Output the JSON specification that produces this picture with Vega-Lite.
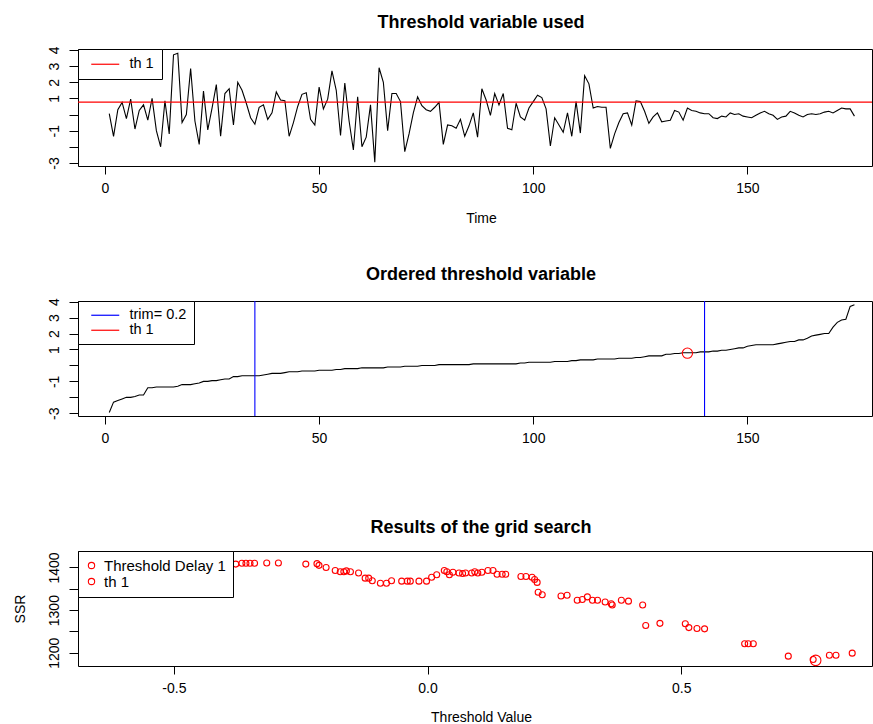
{
  "$schema": "https://vega.github.io/schema/vega-lite/v6.json",
  "padding": {"left": 12, "top": 13, "right": 0, "bottom": 0},
  "bounds": "flush",
  "spacing": 135,
  "background": "white",
  "config": {
    "font": "Liberation Sans",
    "view": {"stroke": "#000", "strokeWidth": 1},
    "axis": {"domain": false, "grid": false, "tickColor": "#000", "tickSize": 8, "labelColor": "#000", "labelFontSize": 14, "labelFont": "Liberation Sans", "titleFont": "Liberation Sans", "titleFontSize": 14, "titleFontWeight": "normal", "titleColor": "#000", "labelFlush": false, "labelOverlap": false, "labelPadding": 7},
    "title": {"fontSize": 18, "fontWeight": "bold", "color": "#000", "frame": "group", "offset": 14, "dx": 6, "font": "Liberation Sans"},
    "legend": {"orient": "top-left", "offset": 0, "fillColor": "white", "strokeColor": "black", "labelFontSize": 14.5, "labelColor": "#000", "labelFont": "Liberation Sans", "rowPadding": 0, "titlePadding": 0, "symbolOpacity": 1}
  },
  "resolve": {"scale": {"x": "independent", "y": "independent", "color": "independent"}, "legend": {"color": "independent"}, "axis": {"x": "independent", "y": "independent"}},
  "datasets": {
    "series": [
      {"t":1,"value":0.05},{"t":2,"value":-1.35},{"t":3,"value":0.3},{"t":4,"value":0.75},{"t":5,"value":-0.25},
      {"t":6,"value":0.95},{"t":7,"value":-0.9},{"t":8,"value":0.25},{"t":9,"value":0.6},{"t":10,"value":-0.35},
      {"t":11,"value":1.0},{"t":12,"value":-1.0},{"t":13,"value":-2.0},{"t":14,"value":0.85},{"t":15,"value":-1.2},
      {"t":16,"value":3.7},{"t":17,"value":3.8},{"t":18,"value":-0.5},{"t":19,"value":0.0},{"t":20,"value":2.85},
      {"t":21,"value":-0.4},{"t":22,"value":-1.85},{"t":23,"value":1.45},{"t":24,"value":-0.95},{"t":25,"value":0.4},
      {"t":26,"value":1.85},{"t":27,"value":-1.35},{"t":28,"value":1.3},{"t":29,"value":1.6},{"t":30,"value":-0.65},
      {"t":31,"value":2.0},{"t":32,"value":1.5},{"t":33,"value":0.7},{"t":34,"value":-0.2},{"t":35,"value":-0.6},
      {"t":36,"value":0.45},{"t":37,"value":0.6},{"t":38,"value":-0.3},{"t":39,"value":0.1},{"t":40,"value":1.4},
      {"t":41,"value":0.9},{"t":42,"value":0.85},{"t":43,"value":-1.35},{"t":44,"value":-0.5},{"t":45,"value":0.5},
      {"t":46,"value":1.25},{"t":47,"value":1.35},{"t":48,"value":-0.3},{"t":49,"value":-0.65},{"t":50,"value":1.7},
      {"t":51,"value":0.35},{"t":52,"value":0.95},{"t":53,"value":2.7},{"t":54,"value":1.5},{"t":55,"value":-1.3},
      {"t":56,"value":1.95},{"t":57,"value":-0.4},{"t":58,"value":-2.2},{"t":59,"value":1.1},{"t":60,"value":-2.0},
      {"t":61,"value":-1.4},{"t":62,"value":0.6},{"t":63,"value":-2.95},{"t":64,"value":2.9},{"t":65,"value":2.0},
      {"t":66,"value":-1.0},{"t":67,"value":1.3},{"t":68,"value":1.3},{"t":69,"value":0.8},{"t":70,"value":-2.3},
      {"t":71,"value":-1.2},{"t":72,"value":0.1},{"t":73,"value":1.1},{"t":74,"value":0.55},{"t":75,"value":0.3},
      {"t":76,"value":0.2},{"t":77,"value":0.45},{"t":78,"value":0.75},{"t":79,"value":-1.85},{"t":80,"value":-0.65},
      {"t":81,"value":-0.7},{"t":82,"value":-0.85},{"t":83,"value":-0.3},{"t":84,"value":-1.35},{"t":85,"value":-0.7},
      {"t":86,"value":0.1},{"t":87,"value":-1.4},{"t":88,"value":1.6},{"t":89,"value":0.9},{"t":90,"value":-0.05},
      {"t":91,"value":1.3},{"t":92,"value":0.6},{"t":93,"value":1.3},{"t":94,"value":-0.85},{"t":95,"value":-0.95},
      {"t":96,"value":0.7},{"t":97,"value":-0.15},{"t":98,"value":-0.35},{"t":99,"value":0.4},{"t":100,"value":0.8},
      {"t":101,"value":1.2},{"t":102,"value":1.05},{"t":103,"value":0.35},{"t":104,"value":-1.95},{"t":105,"value":-0.2},
      {"t":106,"value":-0.65},{"t":107,"value":-1.1},{"t":108,"value":0.1},{"t":109,"value":-1.35},{"t":110,"value":0.8},
      {"t":111,"value":-1.15},{"t":112,"value":2.4},{"t":113,"value":1.9},{"t":114,"value":0.4},{"t":115,"value":0.5},
      {"t":116,"value":0.45},{"t":117,"value":0.45},{"t":118,"value":-2.1},{"t":119,"value":-1.2},{"t":120,"value":-0.5},
      {"t":121,"value":0.05},{"t":122,"value":0.1},{"t":123,"value":-0.65},{"t":124,"value":0.85},{"t":125,"value":0.8},
      {"t":126,"value":0.2},{"t":127,"value":-0.55},{"t":128,"value":-0.15},{"t":129,"value":0.1},{"t":130,"value":-0.45},
      {"t":131,"value":-0.4},{"t":132,"value":-0.35},{"t":133,"value":0.25},{"t":134,"value":0.15},{"t":135,"value":-0.35},
      {"t":136,"value":0.4},{"t":137,"value":0.25},{"t":138,"value":0.2},{"t":139,"value":0.1},{"t":140,"value":0.05},
      {"t":141,"value":0.05},{"t":142,"value":-0.2},{"t":143,"value":-0.25},{"t":144,"value":-0.1},{"t":145,"value":-0.15},
      {"t":146,"value":0.1},{"t":147,"value":0.0},{"t":148,"value":0.05},{"t":149,"value":-0.1},{"t":150,"value":-0.15},
      {"t":151,"value":-0.2},{"t":152,"value":-0.05},{"t":153,"value":0.1},{"t":154,"value":0.2},{"t":155,"value":0.05},
      {"t":156,"value":-0.05},{"t":157,"value":-0.3},{"t":158,"value":-0.15},{"t":159,"value":-0.1},{"t":160,"value":0.2},
      {"t":161,"value":0.1},{"t":162,"value":-0.05},{"t":163,"value":-0.15},{"t":164,"value":0.0},{"t":165,"value":0.05},
      {"t":166,"value":0.0},{"t":167,"value":0.05},{"t":168,"value":0.15},{"t":169,"value":0.2},{"t":170,"value":0.1},
      {"t":171,"value":0.25},{"t":172,"value":0.4},{"t":173,"value":0.35},{"t":174,"value":0.35},{"t":175,"value":-0.1}
    ],
    "grid": [
      {"threshold":-0.378,"ssr":1408},{"threshold":-0.366,"ssr":1410},{"threshold":-0.358,"ssr":1410},{"threshold":-0.350,"ssr":1410},
      {"threshold":-0.341,"ssr":1410},{"threshold":-0.317,"ssr":1410.5},{"threshold":-0.294,"ssr":1410.5},{"threshold":-0.240,"ssr":1408},
      {"threshold":-0.218,"ssr":1409},{"threshold":-0.214,"ssr":1405},{"threshold":-0.200,"ssr":1400},{"threshold":-0.182,"ssr":1393},
      {"threshold":-0.172,"ssr":1390},{"threshold":-0.165,"ssr":1390},{"threshold":-0.160,"ssr":1392},{"threshold":-0.152,"ssr":1390},
      {"threshold":-0.136,"ssr":1387},{"threshold":-0.123,"ssr":1375},{"threshold":-0.116,"ssr":1375},{"threshold":-0.109,"ssr":1369},
      {"threshold":-0.093,"ssr":1363},{"threshold":-0.081,"ssr":1363},{"threshold":-0.071,"ssr":1369},{"threshold":-0.051,"ssr":1368},
      {"threshold":-0.040,"ssr":1368},{"threshold":-0.034,"ssr":1368},{"threshold":-0.017,"ssr":1368},{"threshold":-0.002,"ssr":1368},
      {"threshold":0.008,"ssr":1377},{"threshold":0.018,"ssr":1383},{"threshold":0.033,"ssr":1393},{"threshold":0.038,"ssr":1390},
      {"threshold":0.043,"ssr":1383},{"threshold":0.050,"ssr":1389},{"threshold":0.062,"ssr":1387},{"threshold":0.069,"ssr":1386},
      {"threshold":0.075,"ssr":1387},{"threshold":0.087,"ssr":1387},{"threshold":0.093,"ssr":1390},{"threshold":0.099,"ssr":1387},
      {"threshold":0.107,"ssr":1389},{"threshold":0.119,"ssr":1393},{"threshold":0.129,"ssr":1393},{"threshold":0.137,"ssr":1384},
      {"threshold":0.147,"ssr":1384},{"threshold":0.154,"ssr":1384},{"threshold":0.184,"ssr":1379},{"threshold":0.194,"ssr":1379},
      {"threshold":0.206,"ssr":1377},{"threshold":0.211,"ssr":1372},{"threshold":0.216,"ssr":1365},{"threshold":0.218,"ssr":1342},
      {"threshold":0.226,"ssr":1336},{"threshold":0.263,"ssr":1333},{"threshold":0.275,"ssr":1335},{"threshold":0.295,"ssr":1323},
      {"threshold":0.305,"ssr":1325},{"threshold":0.315,"ssr":1331},{"threshold":0.325,"ssr":1323},{"threshold":0.335,"ssr":1323},
      {"threshold":0.350,"ssr":1319},{"threshold":0.362,"ssr":1315},{"threshold":0.364,"ssr":1312},{"threshold":0.382,"ssr":1323},
      {"threshold":0.396,"ssr":1321},{"threshold":0.424,"ssr":1312},{"threshold":0.430,"ssr":1264},{"threshold":0.458,"ssr":1269},
      {"threshold":0.508,"ssr":1268},{"threshold":0.515,"ssr":1259},{"threshold":0.531,"ssr":1257},{"threshold":0.546,"ssr":1256},
      {"threshold":0.625,"ssr":1221},{"threshold":0.632,"ssr":1221},{"threshold":0.642,"ssr":1221},{"threshold":0.711,"ssr":1192},
      {"threshold":0.760,"ssr":1184},{"threshold":0.792,"ssr":1194},{"threshold":0.805,"ssr":1194},{"threshold":0.837,"ssr":1199}
    ]
  },
  "vconcat": [
    {
      "width": 794,
      "height": 117,
      "title": {"text": "Threshold variable used"},
      "layer": [
        {
          "data": {"name": "series"},
          "mark": {"type": "line", "color": "black", "strokeWidth": 1.1},
          "encoding": {
            "x": {"field": "t", "type": "quantitative", "scale": {"domain": [-6.3, 179.1], "nice": false, "zero": false},
                  "axis": {"values": [0, 50, 100, 150], "title": "Time", "titleX": 403, "titlePadding": 16}},
            "y": {"field": "value", "type": "quantitative", "scale": {"domain": [-3.19, 4.06], "nice": false, "zero": false},
                  "axis": {"tickCount": 8, "tickMinStep": 1, "title": null, "tickSize": 9, "labelPadding": 8, "labelAngle": -90, "labelAlign": "center", "labelBaseline": "bottom", "labelOverlap": false, "labelBound": false,
                           "labelExpr": "datum.value == 0 || datum.value == -2 ? '' : (datum.value < 0 ? '-' + format(-datum.value, 'd') : format(datum.value, 'd'))"}}
          }
        },
        {
          "data": {"values": [{"th": 0.77}]},
          "mark": {"type": "rule", "strokeWidth": 1.1},
          "encoding": {
            "y": {"field": "th", "type": "quantitative"},
            "color": {"datum": "th 1", "type": "nominal", "scale": {"domain": ["th 1"], "range": ["#ff0000"]},
                      "legend": {"title": null, "symbolType": "M-2.8,0H2.8", "symbolSize": 100, "symbolStrokeWidth": 1.2, "padding": 8, "symbolOffset": 12, "labelOffset": 17}}
          }
        }
      ]
    },
    {
      "width": 794,
      "height": 115,
      "title": {"text": "Ordered threshold variable"},
      "layer": [
        {
          "data": {"name": "series"},
          "transform": [{"window": [{"op": "row_number", "as": "rank"}], "sort": [{"field": "value", "order": "ascending"}]}],
          "mark": {"type": "line", "color": "black", "strokeWidth": 1.1},
          "encoding": {
            "x": {"field": "rank", "type": "quantitative", "scale": {"domain": [-6.3, 179.1], "nice": false, "zero": false},
                  "axis": {"values": [0, 50, 100, 150], "title": null}},
            "y": {"field": "value", "type": "quantitative", "scale": {"domain": [-3.17, 4.04], "nice": false, "zero": false},
                  "axis": {"tickCount": 8, "tickMinStep": 1, "title": null, "tickSize": 9, "labelPadding": 8, "labelAngle": -90, "labelAlign": "center", "labelBaseline": "bottom", "labelOverlap": false, "labelBound": false,
                           "labelExpr": "datum.value == 0 || datum.value == -2 ? '' : (datum.value < 0 ? '-' + format(-datum.value, 'd') : format(datum.value, 'd'))"}}
          }
        },
        {
          "data": {"values": [{"pos": 35}, {"pos": 140}]},
          "mark": {"type": "rule", "strokeWidth": 1.1},
          "encoding": {
            "x": {"field": "pos", "type": "quantitative"},
            "color": {"datum": "trim= 0.2", "type": "nominal", "scale": {"domain": ["trim= 0.2", "th 1"], "range": ["#0000ff", "#ff0000"]},
                      "legend": {"title": null, "symbolType": "M-2.8,0H2.8", "symbolSize": 100, "symbolStrokeWidth": 1.2, "padding": 7, "symbolOffset": 13, "labelOffset": 17, "symbolOpacity": 1}}
          }
        },
        {
          "data": {"values": [{"rank": 136, "value": 0.77}]},
          "mark": {"type": "point", "shape": "circle", "filled": false, "size": 105, "strokeWidth": 1.1, "opacity": 1},
          "encoding": {
            "x": {"field": "rank", "type": "quantitative"},
            "y": {"field": "value", "type": "quantitative"},
            "color": {"datum": "th 1", "type": "nominal"}
          }
        }
      ]
    },
    {
      "width": 794,
      "height": 115,
      "title": {"text": "Results of the grid search"},
      "layer": [
        {
          "data": {"name": "grid"},
          "mark": {"type": "point", "shape": "circle", "filled": false, "size": 36, "strokeWidth": 1.1, "opacity": 1},
          "encoding": {
            "x": {"field": "threshold", "type": "quantitative", "scale": {"domain": [-0.689, 0.876], "nice": false, "zero": false},
                  "axis": {"values": [-0.5, 0, 0.5], "title": "Threshold Value", "titleX": 403, "titlePadding": 15,
                           "labelExpr": "datum.value < 0 ? '-' + format(-datum.value, '.1f') : format(datum.value, '.1f')"}},
            "y": {"field": "ssr", "type": "quantitative", "scale": {"domain": [1168.9, 1438.7], "nice": false, "zero": false},
                  "axis": {"tickCount": 6, "title": "SSR", "titlePadding": 20, "tickSize": 9, "labelPadding": 8, "labelAngle": -90, "labelAlign": "center", "labelBaseline": "bottom", "labelOverlap": false, "labelBound": false,
                           "labelExpr": "datum.value % 100 == 0 ? format(datum.value, 'd') : ''"}},
            "color": {"datum": "Threshold Delay 1", "type": "nominal", "scale": {"domain": ["Threshold Delay 1", "th 1"], "range": ["#ff0000", "#ff0000"]},
                      "legend": {"title": null, "symbolType": "circle", "symbolSize": 40, "symbolStrokeWidth": 1.1, "padding": 7, "symbolOffset": -1, "labelOffset": 5, "labelFontSize": 15, "symbolOpacity": 1}}
          }
        },
        {
          "data": {"values": [{"threshold": 0.765, "ssr": 1182}]},
          "mark": {"type": "point", "shape": "circle", "filled": false, "size": 110, "strokeWidth": 1.1, "opacity": 1},
          "encoding": {
            "x": {"field": "threshold", "type": "quantitative"},
            "y": {"field": "ssr", "type": "quantitative"},
            "color": {"datum": "th 1", "type": "nominal"}
          }
        }
      ]
    }
  ]
}
